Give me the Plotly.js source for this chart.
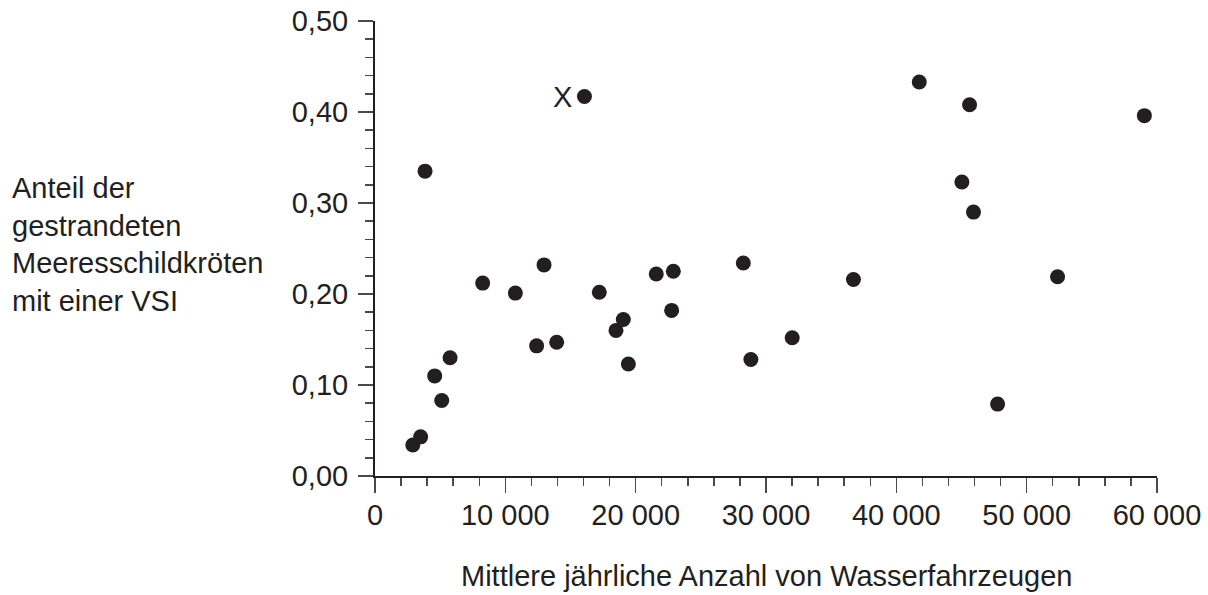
<!DOCTYPE html>
<html>
<head>
<meta charset="utf-8">
<script src="https://cdn.plot.ly/plotly-3.0.1.min.js"></script>
<style>
  html, body { margin: 0; padding: 0; background: #ffffff; }
  #chart { width: 1208px; height: 595px; }
</style>
</head>
<body>
<div id="chart"></div>
<script>
// Mittlere jährliche Anzahl von Wasserfahrzeugen
const vesselCounts = [
  2900, 3500, 4580, 5120, 5760, 3840, 8260, 10770, 12970, 12400,
  13940, 16070, 17210, 18490, 19050, 19440, 21580, 22890, 22760, 28260,
  28840, 32010, 36710, 41760, 45620, 45030, 45920, 47770, 52370, 59030
];
// Anteil der gestrandeten Meeresschildkröten mit einer VSI
const vsiShares = [
  0.034, 0.043, 0.110, 0.083, 0.130, 0.335, 0.212, 0.201, 0.232, 0.143,
  0.147, 0.417, 0.202, 0.160, 0.172, 0.123, 0.222, 0.225, 0.182, 0.234,
  0.128, 0.152, 0.216, 0.433, 0.408, 0.323, 0.290, 0.079, 0.219, 0.396
];
const markedIndex = 11;          // point labelled "X"
const markedLabel = "X";

const xTickVals = [0, 10000, 20000, 30000, 40000, 50000, 60000];
const xTickLabels = ["0", "10 000", "20 000", "30 000", "40 000", "50 000", "60 000"];
const yTickVals = [0, 0.1, 0.2, 0.3, 0.4, 0.5];
const yTickLabels = ["0,00", "0,10", "0,20", "0,30", "0,40", "0,50"];

const xTitle = "Mittlere jährliche Anzahl von Wasserfahrzeugen";
const yTitleLines = ["Anteil der", "gestrandeten", "Meeresschildkröten", "mit einer VSI"];

const INK = "#231f20";
const TICK = "#4a4a4a";
const FONT = "Liberation Sans, Arial, sans-serif";
const FS = 29;

const trace = {
  type: "scatter",
  mode: "markers",
  x: vesselCounts,
  y: vsiShares,
  marker: { size: 15, color: INK, line: { width: 0 } },
  hoverinfo: "x+y"
};

const layout = {
  width: 1208,
  height: 595,
  margin: { l: 375, r: 51, t: 21, b: 119, pad: 0 },
  paper_bgcolor: "#ffffff",
  plot_bgcolor: "#ffffff",
  showlegend: false,
  font: { family: FONT, size: FS, color: INK },
  xaxis: {
    range: [0, 60000],
    tickmode: "array",
    tickvals: xTickVals,
    ticktext: xTickLabels,
    ticks: "outside",
    ticklen: 15,
    tickwidth: 1.5,
    tickcolor: TICK,
    ticklabelstandoff: -3,
    showline: true,
    linecolor: INK,
    linewidth: 2,
    showgrid: false,
    zeroline: false,
    tickfont: { family: FONT, size: FS, color: INK },
    minor: { dtick: 2000, ticks: "outside", ticklen: 8, tickwidth: 1.5, tickcolor: TICK, showgrid: false },
    fixedrange: true
  },
  yaxis: {
    range: [0, 0.5],
    tickmode: "array",
    tickvals: yTickVals,
    ticktext: yTickLabels,
    ticks: "outside",
    ticklen: 15,
    tickwidth: 1.5,
    tickcolor: TICK,
    ticklabelstandoff: 4,
    showline: true,
    linecolor: INK,
    linewidth: 2,
    showgrid: false,
    zeroline: false,
    tickfont: { family: FONT, size: FS, color: INK },
    minor: { dtick: 0.02, ticks: "outside", ticklen: 8, tickwidth: 1.5, tickcolor: TICK, showgrid: false },
    fixedrange: true
  },
  annotations: [
    {
      text: xTitle,
      xref: "paper", yref: "paper",
      x: 0.5, y: -0.219,
      xanchor: "center", yanchor: "middle",
      showarrow: false,
      font: { family: FONT, size: FS, color: INK }
    },
    {
      text: yTitleLines.join("<br>"),
      xref: "paper", yref: "paper",
      x: -0.467, y: 0.508,
      xanchor: "left", yanchor: "middle",
      align: "left",
      showarrow: false,
      font: { family: FONT, size: FS, color: INK }
    },
    {
      text: markedLabel,
      xref: "x", yref: "y",
      x: vesselCounts[markedIndex],
      y: vsiShares[markedIndex],
      xanchor: "center", yanchor: "middle",
      xshift: -22,
      showarrow: false,
      font: { family: FONT, size: FS, color: INK }
    }
  ]
};

Plotly.newPlot("chart", [trace], layout, { displayModeBar: false, staticPlot: true });
</script>
</body>
</html>
